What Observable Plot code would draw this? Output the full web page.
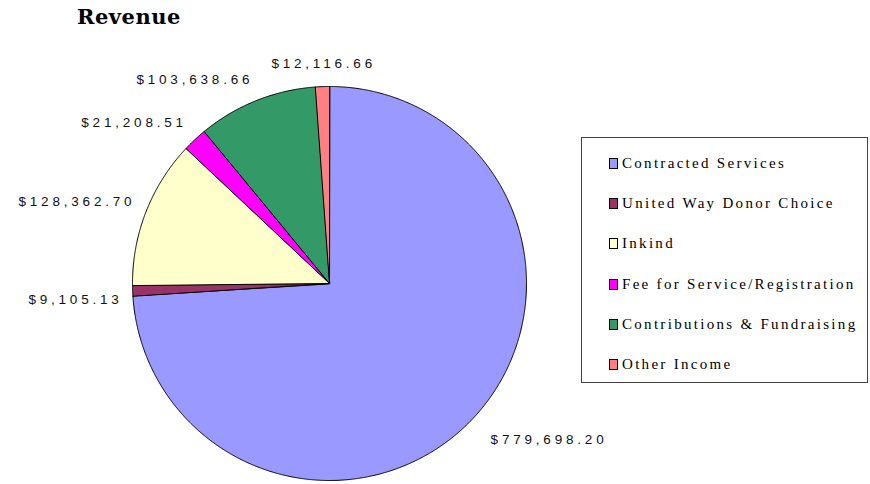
<!DOCTYPE html>
<html><head><meta charset="utf-8">
<script src="https://cdn.jsdelivr.net/npm/d3@7"></script>
<script src="https://cdn.jsdelivr.net/npm/@observablehq/plot@0.6"></script>
<style>
body{margin:0;background:#fff}
#wrap{position:relative;width:870px;height:484px;overflow:hidden;background:#fff}
#chart{position:absolute;left:0;top:0}
#title{position:absolute;left:77px;top:4px;font:bold 21px "DejaVu Serif";letter-spacing:0.5px;color:#000}
#legend{position:absolute;left:581px;top:137px;width:287px;height:246px;border:1px solid #444;box-sizing:border-box}
.item{position:absolute;left:27px;font:15px "Liberation Serif";letter-spacing:2.3px;color:#000;white-space:nowrap;line-height:18px}
.sw{display:inline-block;width:7px;height:9px;border:1px solid #000;margin-right:4px;vertical-align:-1px}
</style></head>
<body>
<div id="wrap">
<div id="chart"></div>
<div id="title">Revenue</div>
<div id="legend"></div>
</div>
<script>
const categories = ["Contracted Services","United Way Donor Choice","Inkind","Fee for Service/Registration","Contributions & Fundraising","Other Income"];
const values = [779698.20, 9105.13, 128362.70, 21208.51, 103638.66, 12116.66];
const labels = ["$779,698.20","$9,105.13","$128,362.70","$21,208.51","$103,638.66","$12,116.66"];
const colors = ["#9999FF","#993366","#FFFFCC","#FF00FF","#339966","#FF8080"];

const arcs = d3.pie().sort(null).value(d => d)(values);
const pts = [];
arcs.forEach((a, i) => {
  const cat = categories[i];
  pts.push({cat, x: 0, y: 0});
  const n = Math.max(2, Math.ceil((a.endAngle - a.startAngle) / 0.005));
  for (let k = 0; k <= n; k++) {
    const t = a.startAngle + (a.endAngle - a.startAngle) * k / n;
    pts.push({cat, x: Math.sin(t), y: Math.cos(t)});
  }
});
const lab = arcs.map((a, i) => {
  const m = (a.startAngle + a.endAngle) / 2;
  const r = 1.1;
  let x = r * Math.sin(m);
  const y = r * Math.cos(m);
  const side = Math.abs(x) < 0.1 ? "middle" : (x > 0 ? "start" : "end");
  if (side === "end") x += 0.03 * (1 - Math.abs(y) / r);
  if (side === "start") x += 0.015;
  return {text: labels[i], x, y, side, low: y < 0};
});
const txt = (side, low) => Plot.text(lab.filter(d => d.side === side && d.low === low), {
  x: "x", y: "y", text: "text", textAnchor: side, fill: "#111",
  fontSize: 13.5, fontFamily: "Liberation Sans",
  dy: low ? 8 : -3, dx: side === "end" ? 4 : (side === "middle" ? 2 : 0)
});
const plot = Plot.plot({
  width: 870, height: 484, margin: 0,
  x: {domain: [-1, 1], range: [132, 526], axis: null},
  y: {domain: [-1, 1], range: [480, 86], axis: null},
  color: {domain: categories, range: colors},
  marks: [
    Plot.line(pts, {x: "x", y: "y", z: "cat", fill: "cat", stroke: "#000", strokeWidth: 1, curve: "linear-closed"}),
    txt("start", true), txt("start", false), txt("end", true), txt("end", false), txt("middle", true), txt("middle", false)
  ]
});
plot.querySelectorAll("text").forEach(t => t.style.letterSpacing = "3.8px");
document.getElementById("chart").appendChild(plot);

const lg = document.getElementById("legend");
categories.forEach((c, i) => {
  const d = document.createElement("div");
  d.className = "item";
  d.style.top = (16 + i * 40.2) + "px";
  d.innerHTML = `<span class="sw" style="background:${colors[i]}"></span>`;
  d.appendChild(document.createTextNode(c));
  lg.appendChild(d);
});
</script>
</body></html>
